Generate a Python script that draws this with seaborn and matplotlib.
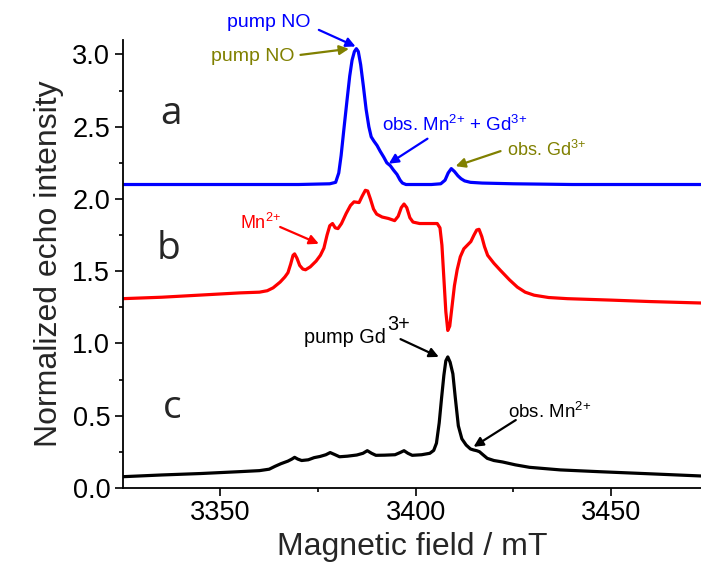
import pandas as pd
import matplotlib
matplotlib.use("Agg")
import matplotlib.pyplot as plt
import seaborn as sns

# Spectrum a: pump NO (blue)
field_a = [3325, 3340, 3355, 3370, 3378, 3379.5, 3380.3, 3380.9, 3381.6, 3382.4,
           3383.1, 3383.7, 3384.3, 3384.8, 3385.3, 3385.9, 3386.6, 3387.3, 3388.0,
           3388.6, 3389.3, 3390.1, 3390.9, 3391.8, 3392.6, 3393.5, 3394.3, 3395.2,
           3396.0, 3396.6, 3397.5, 3400, 3404, 3406.4, 3407.5, 3408.3, 3409.1,
           3409.9, 3410.8, 3411.6, 3412.5, 3414, 3417, 3425, 3440, 3473]
echo_a = [2.10, 2.10, 2.10, 2.10, 2.105, 2.115, 2.18, 2.30, 2.48, 2.68,
          2.85, 2.96, 3.02, 3.04, 3.02, 2.93, 2.78, 2.62, 2.50,
          2.43, 2.40, 2.37, 2.33, 2.29, 2.25, 2.23, 2.20, 2.17,
          2.13, 2.11, 2.10, 2.10, 2.10, 2.105, 2.13, 2.18, 2.21,
          2.19, 2.16, 2.14, 2.125, 2.115, 2.11, 2.105, 2.10, 2.10]

# Spectrum b: Mn2+ (red)
field_b = [3325, 3335, 3345, 3355, 3360, 3362, 3363.5, 3365.3, 3366.5, 3367.3,
           3368, 3368.6, 3369.0, 3369.6, 3370.3, 3371.1, 3371.8, 3373, 3374.5,
           3375.6, 3376.5, 3377.3, 3378.0, 3378.7, 3379.4, 3380.1, 3381, 3382.2,
           3383.3, 3384.2, 3385.5, 3386.3, 3387.1, 3387.7, 3388.4, 3389.2, 3390,
           3391.4, 3393, 3394.6, 3395.5, 3396.3, 3397.0, 3397.7, 3398.5, 3399.3,
           3401, 3403.5, 3405.5, 3406.2, 3406.7, 3407.2, 3407.7, 3408.2, 3408.7,
           3409.3, 3409.9, 3410.6, 3411.4, 3412.3, 3413.2, 3414.1, 3414.9, 3415.6,
           3416.2, 3416.9, 3417.6, 3418.4, 3420, 3421.7, 3424, 3426, 3428, 3430.3,
           3434, 3438.8, 3450, 3460, 3473]
echo_b = [1.31, 1.32, 1.335, 1.35, 1.355, 1.365, 1.385, 1.425, 1.46, 1.49,
          1.55, 1.61, 1.62, 1.59, 1.54, 1.515, 1.51, 1.53, 1.57,
          1.61, 1.66, 1.75, 1.815, 1.83, 1.80, 1.795, 1.83, 1.90,
          1.955, 1.98, 1.975, 2.02, 2.06, 2.055, 2.00, 1.93, 1.895,
          1.875, 1.865, 1.85, 1.88, 1.94, 1.965, 1.94, 1.87, 1.84,
          1.83, 1.83, 1.83, 1.80, 1.68, 1.45, 1.22, 1.09, 1.12,
          1.26, 1.40, 1.51, 1.60, 1.655, 1.68, 1.705, 1.75, 1.785,
          1.79, 1.74, 1.67, 1.61, 1.555, 1.505, 1.44, 1.39, 1.355, 1.334,
          1.318, 1.31, 1.30, 1.29, 1.28]

# Spectrum c: pump Gd3+ (black)
field_c = [3325, 3335, 3345, 3355, 3360, 3362.5, 3364, 3365.5, 3367.3, 3368.3,
           3369.0, 3369.8, 3370.8, 3372.5, 3374, 3375.5, 3377, 3378.1, 3379.2,
           3380.5, 3382.5, 3384.9, 3386.5, 3387.6, 3388.7, 3389.8, 3392, 3394.7,
           3396, 3397, 3398, 3399.1, 3401.5, 3403.6, 3404.6, 3405.3, 3406, 3406.6,
           3407.2, 3407.7, 3408.2, 3408.8, 3409.5, 3410.1, 3410.9, 3411.8, 3412.9,
           3414, 3414.8, 3415.6, 3416.3, 3417.2, 3418.3, 3420, 3422.2, 3425.5,
           3429.1, 3437, 3446.7, 3460, 3473]
echo_c = [0.078, 0.09, 0.10, 0.113, 0.12, 0.13, 0.15, 0.168, 0.186, 0.20,
          0.212, 0.20, 0.19, 0.195, 0.21, 0.218, 0.23, 0.245, 0.232,
          0.216, 0.22, 0.228, 0.24, 0.258, 0.24, 0.226, 0.227, 0.23,
          0.245, 0.258, 0.24, 0.226, 0.23, 0.24, 0.26, 0.31, 0.45, 0.62,
          0.78, 0.88, 0.907, 0.87, 0.79, 0.63, 0.43, 0.34, 0.297,
          0.27, 0.263, 0.258, 0.251, 0.23, 0.205, 0.19, 0.18, 0.16,
          0.143, 0.125, 0.113, 0.098, 0.083]

df = pd.concat([
    pd.DataFrame({"field": field_a, "echo": echo_a, "curve": "a"}),
    pd.DataFrame({"field": field_b, "echo": echo_b, "curve": "b"}),
    pd.DataFrame({"field": field_c, "echo": echo_c, "curve": "c"}),
])

sns.set_theme(style="ticks")
plt.rcParams["font.family"] = ["Liberation Sans", "DejaVu Sans"]
plt.rcParams["mathtext.fontset"] = "custom"
plt.rcParams["mathtext.rm"] = "Liberation Sans"
plt.rcParams["mathtext.default"] = "regular"

fig = plt.figure(figsize=(7.01, 5.69), dpi=100)
ax = fig.add_axes([0.175, 0.1424, 0.825, 0.7873])

sns.lineplot(data=df, x="field", y="echo", hue="curve", estimator=None,
             palette={"a": "#0000ff", "b": "#ff0000", "c": "#000000"},
             linewidth=2.3, legend=False, ax=ax)
for line in ax.lines:
    line.set_solid_joinstyle("round")

ax.set_xlim(3325, 3473)
ax.set_ylim(0, 3.1)
ax.set_xticks([3350, 3400, 3450])
ax.set_xticks([3375, 3425], minor=True)
ax.set_yticks([0, 0.5, 1.0, 1.5, 2.0, 2.5, 3.0])
ax.set_yticks([0.25, 0.75, 1.25, 1.75, 2.25, 2.75], minor=True)
ax.set_yticklabels(["0.0", "0.5", "1.0", "1.5", "2.0", "2.5", "3.0"])
ax.tick_params(which="major", direction="out", length=6, width=1.2,
               labelsize=19.5, pad=3, color="black", labelcolor="black")
ax.tick_params(which="minor", direction="out", length=3, width=1.2, color="black")
ax.tick_params(axis="y", which="both", left=True)
ax.tick_params(axis="x", which="both", bottom=True)
for side in ["top", "right"]:
    ax.spines[side].set_visible(False)
for side in ["left", "bottom"]:
    ax.spines[side].set_linewidth(1.3)
    ax.spines[side].set_color("black")

ax.set_xlabel("Magnetic field / mT", fontsize=23, labelpad=4)
ax.set_ylabel("Normalized echo intensity", fontsize=23, labelpad=6)

# panel letters
for lab, lx, ly in [("a", 3334.6, 2.52), ("b", 3333.7, 1.587), ("c", 3335.4, 0.484)]:
    ax.text(lx, ly, lab, fontsize=28, family="Open Sans", va="baseline", ha="left")

arrow = dict(arrowstyle="-|>", lw=1.6, mutation_scale=14, shrinkA=0, shrinkB=0)

# blue labels
ax.text(3362.5, 3.22, "pump NO", color="#0000ff", fontsize=14,
        ha="center", va="center", clip_on=False)
ax.annotate("", xy=(3384.6, 3.055), xytext=(3375.2, 3.17),
            arrowprops=dict(arrow, color="#0000ff"), annotation_clip=False)
ax.text(3391.4, 2.467, "obs. Mn$^{2{+}}$ + Gd$^{3{+}}$", color="#0000ff",
        fontsize=13.5, ha="left", va="baseline")
ax.annotate("", xy=(3393.1, 2.244), xytext=(3403, 2.417),
            arrowprops=dict(arrow, color="#0000ff"))

# olive labels
ax.text(3358.2, 2.985, "pump NO", color="#808000", fontsize=14,
        ha="center", va="center")
ax.annotate("", xy=(3382.9, 3.039), xytext=(3370.5, 2.997),
            arrowprops=dict(arrow, color="#808000"))
ax.text(3423.3, 2.294, "obs. Gd$^{3{+}}$", color="#808000", fontsize=13,
        ha="left", va="baseline")
ax.annotate("", xy=(3410.2, 2.227), xytext=(3421.7, 2.331),
            arrowprops=dict(arrow, color="#808000"))

# red label
ax.text(3355.1, 1.79, "Mn$^{2{+}}$", color="#ff0000", fontsize=13,
        ha="left", va="baseline")
ax.annotate("", xy=(3375.2, 1.69), xytext=(3365.3, 1.806),
            arrowprops=dict(arrow, color="#ff0000"))

# black labels
ax.text(3371.3, 1.0, "pump Gd", color="black", fontsize=14.3,
        ha="left", va="baseline")
ax.text(3392.7, 1.092, "3+", color="black", fontsize=14.3,
        ha="left", va="baseline")
ax.annotate("", xy=(3405.9, 0.907), xytext=(3396.1, 1.03),
            arrowprops=dict(arrow, color="black"))
ax.text(3423.6, 0.484, "obs. Mn$^{2{+}}$", color="black", fontsize=13.5,
        ha="left", va="baseline")
ax.annotate("", xy=(3414.8, 0.285), xytext=(3425.6, 0.47),
            arrowprops=dict(arrow, color="black"))

fig.savefig("out.png", dpi=100)
